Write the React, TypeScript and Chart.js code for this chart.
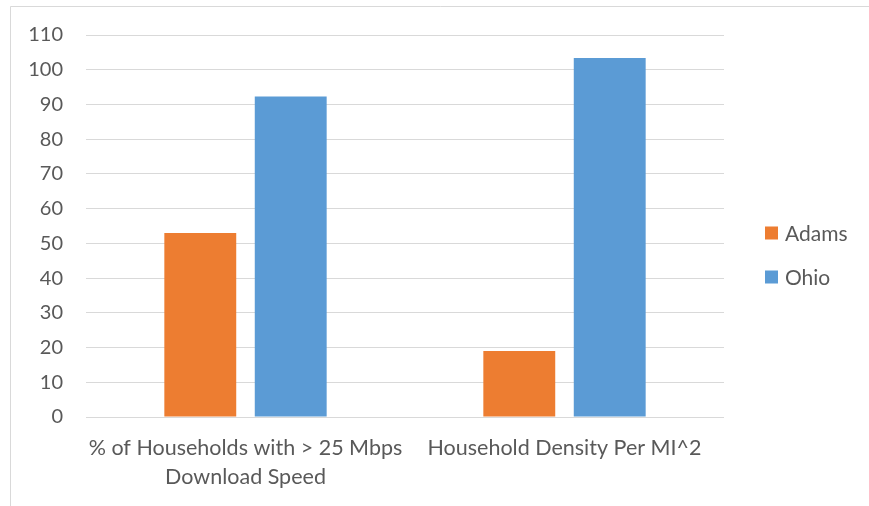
import React, { useEffect, useRef } from "react";
import { Chart, registerables } from "chart.js";

Chart.register(...registerables);

const categories: (string | string[])[] = [
  ["% of Households with > 25 Mbps", "Download Speed"],
  "Household Density Per MI^2",
];
const seriesNames = ["Adams", "Ohio"];
const adamsValues = [53, 19];
const ohioValues = [92.3, 103.4];
const seriesColors = ["#ED7D31", "#5B9BD5"];
const yMin = 0;
const yMax = 110;
const yStep = 10;

const FONT = "Lato, 'Open Sans', sans-serif";
const TEXT = "#595959";
const GRID = "#d9d9d9";

export default function App() {
  const ref = useRef<HTMLCanvasElement | null>(null);
  useEffect(() => {
    document.body.style.margin = "0";
    const canvas = ref.current!;
    const borderPlugin = {
      id: "frame",
      beforeDraw(chart: any) {
        const ctx = chart.ctx;
        ctx.save();
        ctx.fillStyle = "#ffffff";
        ctx.fillRect(0, 0, chart.width, chart.height);
        ctx.strokeStyle = GRID;
        ctx.lineWidth = 1;
        ctx.beginPath();
        ctx.moveTo(10.5, chart.height + 2);
        ctx.lineTo(10.5, 6.5);
        ctx.lineTo(chart.width + 2, 6.5);
        ctx.stroke();
        ctx.restore();
      },
    };
    const legendPlugin = {
      id: "sideLegend",
      afterDraw(chart: any) {
        const ctx = chart.ctx;
        const ds = chart.data.datasets;
        const n = ds.length;
        const x = chart.chartArea.right + 41;
        ctx.save();
        ctx.font = `21px ${FONT}`;
        ctx.textBaseline = "middle";
        ctx.textAlign = "left";
        ds.forEach((d: any, i: number) => {
          const cy = chart.height / 2 + (i - (n - 1) / 2) * 44 + 2;
          ctx.fillStyle = d.backgroundColor;
          ctx.fillRect(x, cy - 6.5, 13, 13);
          ctx.fillStyle = TEXT;
          ctx.fillText(d.label, x + 20, cy + 1);
        });
        ctx.restore();
      },
    };
    const chart = new Chart(canvas, {
      type: "bar",
      data: {
        labels: categories,
        datasets: [
          {
            label: seriesNames[0],
            data: adamsValues,
            backgroundColor: seriesColors[0],
            categoryPercentage: 0.567,
            barPercentage: 0.795,
          },
          {
            label: seriesNames[1],
            data: ohioValues,
            backgroundColor: seriesColors[1],
            categoryPercentage: 0.567,
            barPercentage: 0.795,
          },
        ],
      },
      options: {
        responsive: false,
        animation: false,
        layout: { padding: { top: 35, right: 145, bottom: 0, left: 0 } },
        plugins: {
          legend: { display: false },
          tooltip: { enabled: false },
        },
        scales: {
          x: {
            grid: { display: false, drawTicks: false },
            border: { display: false },
            ticks: {
              color: TEXT,
              font: { family: FONT, size: 21.5, lineHeight: 1.35 },
              padding: 17,
              maxRotation: 0,
              autoSkip: false,
            },
            afterFit(scale: any) {
              scale.height = 89;
            },
          },
          y: {
            min: yMin,
            max: yMax,
            grid: { color: GRID, lineWidth: 1, drawTicks: false },
            border: { display: false },
            ticks: {
              stepSize: yStep,
              color: TEXT,
              font: { family: FONT, size: 20 },
              padding: 23,
            },
            afterFit(scale: any) {
              scale.width = 86;
            },
          },
        },
      },
      plugins: [borderPlugin, legendPlugin],
    });
    return () => chart.destroy();
  }, []);
  return (
    <div style={{ position: "absolute", left: 0, top: 0, width: 869, height: 506 }}>
      <canvas ref={ref} width={869} height={506} style={{ display: "block" }} />
    </div>
  );
}
